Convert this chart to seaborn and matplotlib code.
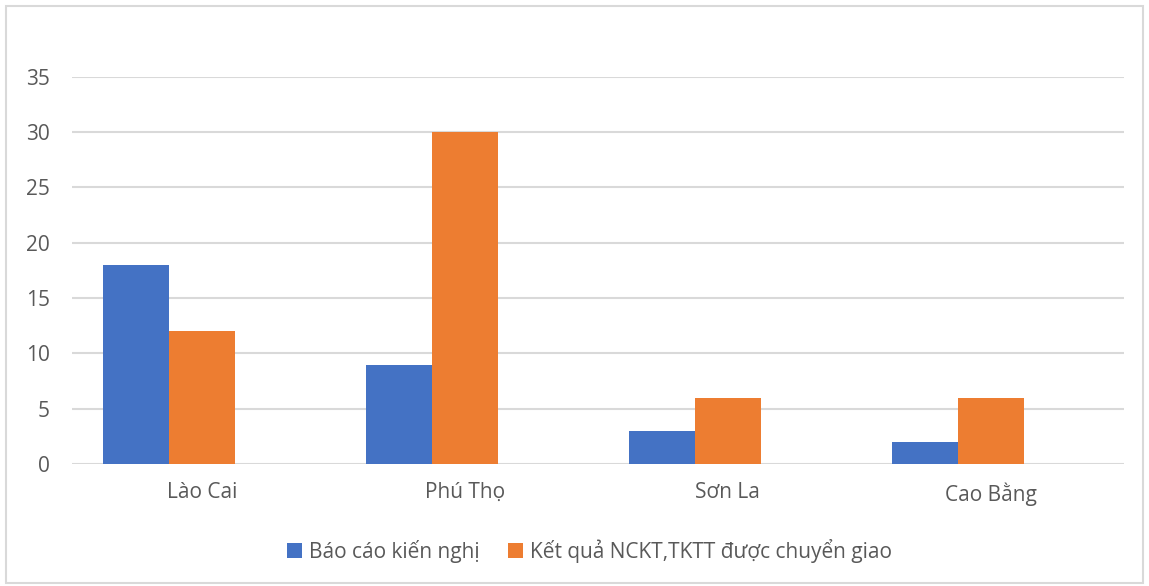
import matplotlib
matplotlib.use("Agg")
import matplotlib.pyplot as plt
import matplotlib.transforms as mtransforms
import seaborn as sns
import pandas as pd
from matplotlib.patches import Rectangle

# Data
provinces = ["Lào Cai", "Phú Thọ", "Sơn La", "Cao Bằng"]
series_names = ["Báo cáo kiến nghị", "Kết quả NCKT,TKTT được chuyển giao"]
bao_cao = [18, 9, 3, 2]
ket_qua = [12, 30, 6, 6]
y_ticks = [0, 5, 10, 15, 20, 25, 30, 35]

colors = ["#4472C4", "#ED7D31"]

df = pd.DataFrame({
    "province": provinces * 2,
    "series": [series_names[0]] * len(provinces) + [series_names[1]] * len(provinces),
    "value": bao_cao + ket_qua,
})

sns.set_theme(style="white")
plt.rcParams["font.family"] = ["Open Sans", "DejaVu Sans"]

fig = plt.figure(figsize=(11.49, 5.86), dpi=100)
ax = fig.add_axes([0.0627, 0.208, 0.9153, 0.661])

sns.barplot(data=df, x="province", y="value", hue="series",
            order=provinces, hue_order=series_names,
            palette=colors, width=0.5, saturation=1, ax=ax,
            errorbar=None, zorder=3, linewidth=0)

ax.set_ylim(0, 35)
ax.set_xlim(-0.369, len(provinces) - 0.369)
ax.set_yticks(y_ticks)
ax.set_yticklabels([str(t) for t in y_ticks])
ax.yaxis.grid(True, color="#D9D9D9", linewidth=1.5, zorder=0)
ax.set_axisbelow(True)
for s in ax.spines.values():
    s.set_visible(False)
ax.tick_params(axis="y", length=0, pad=16, labelsize=15, labelcolor="#595959")
ax.tick_params(axis="x", length=0, pad=13, labelsize=15, labelcolor="#595959")
ax.set_xlabel("")
ax.set_ylabel("")

# category labels sit a little right of their bar pairs
shift = mtransforms.ScaledTranslation(33 / 100, 0, fig.dpi_scale_trans)
for lbl in ax.get_xticklabels():
    lbl.set_transform(lbl.get_transform() + shift)

leg = ax.legend(loc="upper center", bbox_to_anchor=(0.492, -0.145), ncol=2,
                frameon=False, fontsize=15, handlelength=0.72, handleheight=0.75,
                handletextpad=0.3, columnspacing=1.4, labelcolor="#595959")

# Chart-area frame
fig.patches.append(Rectangle((0.005, 0.005), 0.99, 0.985, transform=fig.transFigure,
                             fill=False, edgecolor="#D9D9D9", linewidth=1.5))

fig.savefig("out.png", dpi=100, facecolor="white")
